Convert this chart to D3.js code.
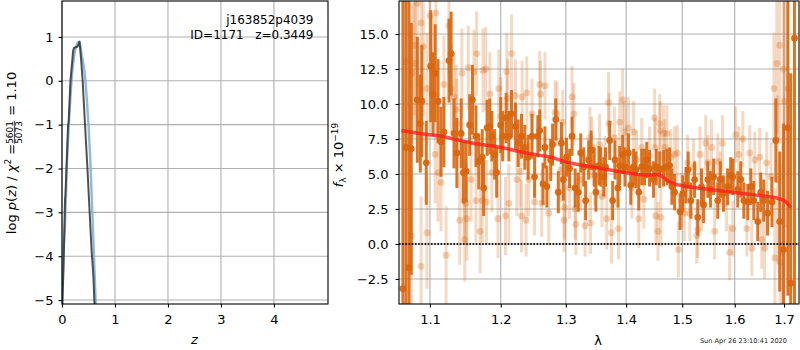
<!DOCTYPE html>
<html>
<meta charset="utf-8" />
<head>
<script src="https://cdnjs.cloudflare.com/ajax/libs/d3/7.8.5/d3.min.js"></script>
<style>
  body { margin: 0; background: #fff; }
  text { font-family: "DejaVu Sans", sans-serif; }
</style>
</head>
<body>
<script>
// ---- left panel: log p(z)
const pzBlueZ   = [0.0, 0.025, 0.06, 0.09, 0.13, 0.18, 0.245, 0.29, 0.33, 0.37, 0.43, 0.47, 0.50, 0.53, 0.56, 0.60, 0.635, 0.66];
const pzBlueLog = [-5.4, -4.0, -3.2, -2.0, -1.0, 0.0, 0.68, 0.85, 0.9, 0.6, 0.15, -0.45, -1.0, -1.7, -2.6, -3.9, -5.0, -5.8];
const pzDarkZ   = [0.0, 0.03, 0.057, 0.065, 0.09, 0.115, 0.125, 0.16, 0.21, 0.225, 0.245, 0.29, 0.31, 0.33, 0.36, 0.39, 0.43, 0.48, 0.53, 0.56, 0.59, 0.61, 0.63];
const pzDarkLog = [-5.3, -4.2, -2.7, -2.6, -1.8, -1.0, -0.95, 0.0, 0.68, 0.75, 0.76, 0.78, 0.82, 0.9, 0.5, 0.0, -0.9, -2.0, -3.2, -3.9, -4.4, -5.0, -5.5];
const zTicks = [0, 1, 2, 3, 4];
const logpTicks = [-5, -4, -3, -2, -1, 0, 1];

// ---- right panel: spectrum
const darkWave = [1.064, 1.068, 1.072, 1.075, 1.083, 1.087, 1.089, 1.095, 1.101, 1.104, 1.107, 1.111, 1.115, 1.119, 1.126, 1.129, 1.133, 1.137, 1.143, 1.146,
  1.150, 1.155, 1.159, 1.164, 1.168, 1.173, 1.175, 1.180, 1.184, 1.187, 1.191, 1.194, 1.200, 1.203, 1.208, 1.212, 1.216, 1.222, 1.226, 1.231,
  1.236, 1.241, 1.247, 1.251, 1.256, 1.259, 1.264, 1.267, 1.270, 1.276, 1.279, 1.284, 1.288, 1.293, 1.296, 1.301, 1.306, 1.310, 1.315, 1.320,
  1.324, 1.329, 1.332, 1.337, 1.341, 1.346, 1.349, 1.354, 1.357, 1.362, 1.365, 1.372, 1.377, 1.381, 1.386, 1.389, 1.394, 1.398, 1.404, 1.408,
  1.413, 1.417, 1.422, 1.427, 1.432, 1.436, 1.441, 1.448, 1.453, 1.459, 1.466, 1.472, 1.477, 1.481, 1.486, 1.496, 1.501, 1.507, 1.511, 1.516,
  1.523, 1.529, 1.536, 1.540, 1.548, 1.553, 1.559, 1.567, 1.572, 1.578, 1.586, 1.592, 1.596, 1.606, 1.612, 1.618, 1.626, 1.632, 1.638, 1.646,
  1.652, 1.658, 1.666, 1.675, 1.683, 1.691, 1.699, 1.708, 1.714, 1.722];
const darkFlux = [-3.2, 6.9, -1.7, 6.8, 10.3, 8.6, 10.2, 5.8, 12.7, 10.7, 12.2, 10.2, 7.3, 8.0, 13.1, 13.6, 7.9, 6.5, 7.9, 5.1,
  5.2, 8.5, 10.3, 7.7, 5.9, 6.2, 4.0, 8.3, 8.4, 7.7, 6.4, 5.1, 8.5, 7.7, 9.0, 7.7, 9.3, 8.4, 7.2, 7.7,
  6.9, 6.2, 7.7, 4.8, 7.7, 8.1, 4.3, 6.9, 4.1, 6.0, 7.1, 8.9, 3.7, 7.2, 4.6, 6.2, 5.4, 7.7, 4.0, 3.7,
  6.5, 5.5, 3.1, 6.0, 6.7, 5.5, 3.7, 5.6, 5.5, 4.8, 5.5, 7.4, 3.1, 6.0, 4.0, 5.6, 6.4, 5.5, 6.5, 4.2,
  5.5, 5.3, 3.7, 5.5, 5.5, 6.0, 5.4, 4.6, 5.5, 5.3, 5.4, 5.5, 5.6, 4.1, 3.7, 2.3, 3.6, 4.2, 5.3, 3.1,
  4.6, 1.9, 4.1, 2.8, 4.6, 3.9, 4.8, 3.1, 4.6, 3.6, 4.1, 4.9, 4.8, 3.9, 4.6, 3.1, 3.0, 4.1, 3.1, 1.6,
  3.7, 3.1, 2.2, 3.0, 7.4, 1.6, -0.4, 8.3, -2.8, 14.7];
const darkErr = [25, 12, 20, 9, 4.5, 3.5, 4, 3, 4, 3, 3.5, 3, 2.5, 2.5, 3, 3, 2.5, 2.5, 2.5, 2.2,
  2.2, 2.2, 2.5, 2.2, 2, 2, 2, 2, 2, 1.8, 1.8, 1.8, 2, 1.8, 1.8, 1.8, 1.7, 1.7, 1.7, 1.6,
  1.6, 1.6, 1.6, 1.5, 1.5, 1.5, 1.5, 1.5, 1.5, 1.5, 1.5, 1.5, 1.5, 1.5, 1.5, 1.4, 1.4, 1.4, 1.4, 1.4,
  1.4, 1.4, 1.4, 1.4, 1.4, 1.4, 1.4, 1.4, 1.4, 1.4, 1.4, 1.4, 1.4, 1.4, 1.4, 1.4, 1.4, 1.4, 1.4, 1.4,
  1.3, 1.3, 1.3, 1.3, 1.3, 1.3, 1.3, 1.3, 1.3, 1.3, 1.3, 1.3, 1.3, 1.3, 1.3, 1.3, 1.3, 1.3, 1.3, 1.3,
  1.3, 1.3, 1.3, 1.3, 1.3, 1.3, 1.3, 1.3, 1.3, 1.3, 1.3, 1.3, 1.3, 1.3, 1.3, 1.3, 1.3, 1.3, 1.4, 1.4,
  1.4, 1.5, 1.6, 1.8, 3, 5, 9, 12, 15, 20];

const lightWave = [1.068, 1.075, 1.076, 1.079, 1.080, 1.083, 1.088, 1.088, 1.091, 1.096, 1.096, 1.100, 1.103, 1.107, 1.108, 1.111, 1.115, 1.119, 1.122, 1.126,
  1.129, 1.133, 1.136, 1.137, 1.141, 1.144, 1.147, 1.148, 1.150, 1.151, 1.153, 1.157, 1.161, 1.164, 1.165, 1.170, 1.173, 1.174, 1.178, 1.179,
  1.184, 1.187, 1.196, 1.197, 1.200, 1.207, 1.209, 1.210, 1.212, 1.216, 1.222, 1.224, 1.229, 1.231, 1.232, 1.238, 1.239, 1.242, 1.247, 1.251,
  1.259, 1.260, 1.262, 1.267, 1.273, 1.283, 1.286, 1.292, 1.295, 1.297, 1.298, 1.306, 1.310, 1.313, 1.315, 1.316, 1.324, 1.331, 1.339, 1.340,
  1.342, 1.347, 1.355, 1.359, 1.364, 1.367, 1.370, 1.371, 1.375, 1.380, 1.387, 1.389, 1.394, 1.397, 1.404, 1.410, 1.413, 1.418, 1.422, 1.427,
  1.431, 1.441, 1.450, 1.451, 1.452, 1.456, 1.459, 1.460, 1.461, 1.466, 1.468, 1.472, 1.479, 1.486, 1.491, 1.493, 1.499, 1.504, 1.510, 1.514,
  1.521, 1.527, 1.529, 1.533, 1.536, 1.544, 1.548, 1.555, 1.561, 1.567, 1.572, 1.576, 1.584, 1.590, 1.596, 1.602, 1.608, 1.616, 1.624, 1.630,
  1.634, 1.640, 1.650, 1.654, 1.660, 1.664, 1.673, 1.679, 1.681, 1.685, 1.687, 1.691, 1.692, 1.697, 1.699, 1.701, 1.708];
const lightFlux = [13.0, 0.6, 12.2, 14.2, 12.9, 17.2, 15.8, -1.6, 14.1, 11.1, 0.8, 16.3, 12.8, 6.4, 16.5, 5.1, 4.4, 11.4, -0.8, 15.6,
  11.1, 10.5, 9.6, 8.6, 1.7, 12.2, 3.1, 0.3, 2.9, 1.8, 12.6, 4.6, 12.3, 3.1, 13.6, 0.9, 3.1, 12.4, 12.5, 3.0,
  10.7, 5.1, 1.8, 11.1, 9.1, 2.0, 12.3, 10.4, 2.9, 13.6, 10.6, 4.6, 5.2, 2.0, 10.5, 1.7, 10.8, 4.6, 9.3, 3.0,
  11.4, 10.7, 2.9, 11.3, 2.2, 9.4, 9.3, 5.3, 8.7, 1.7, 2.6, 4.0, 10.5, 9.3, 2.5, 1.4, 4.6, 1.3, 7.6, 1.5,
  6.9, 4.9, 7.1, 3.4, 5.5, 1.8, 10.1, 8.6, 0.8, 7.6, 1.1, 8.7, 10.3, 8.0, 8.3, 4.0, 8.0, 6.0, 1.8, 6.9,
  3.2, 6.3, 9.0, 6.9, 2.0, 0.9, 8.6, 8.1, 1.9, 7.9, 6.9, 7.9, 6.2, 6.4, 6.5, -0.4, 3.1, 2.2, 5.8, 2.2,
  5.5, 0.6, 1.0, 6.4, 2.9, 7.2, 5.8, 6.9, 0.9, 5.9, 4.6, 7.2, 2.9, -0.6, 1.1, 7.8, 6.4, 7.5, 1.1, 6.5,
  -0.3, 6.0, 6.2, 0.3, -0.3, 5.8, 4.8, 11.1, -1.0, 12.9, 4.6, 14.2, -1.3, -0.6, 12.5, 10.2, 11.1];
const lightErr = [6, 5, 5, 5, 5, 6, 5, 5, 5, 4, 4, 4, 3.5, 3.5, 4, 3.5, 3.5, 3.5, 3.5, 3.5,
  3.2, 3.2, 3.2, 3.2, 3.2, 3.2, 3, 3, 3, 3, 3, 3, 3, 3, 3, 3, 3, 3, 3, 3,
  3, 2.8, 2.8, 2.8, 2.8, 2.8, 2.8, 2.8, 2.8, 2.8, 2.6, 2.6, 2.6, 2.6, 2.6, 2.6, 2.6, 2.6, 2.5, 2.4,
  2.4, 2.4, 2.4, 2.4, 2.3, 2.3, 2.3, 2.3, 2.3, 2.3, 2.3, 2.2, 2.2, 2.2, 2.2, 2.2, 2.2, 2.2, 2.2, 2.2,
  2.2, 2.2, 2.2, 2.2, 2.2, 2.2, 2.2, 2.2, 2.2, 2.2, 2.2, 2.2, 2.2, 2.2, 2.2, 2.2, 2.2, 2.1, 2.1, 2.1,
  2.1, 2.1, 2.1, 2.1, 2.1, 2.1, 2.1, 2.1, 2.1, 2.0, 2.0, 2.0, 2.0, 2.0, 2.0, 2.0, 2.0, 2.0, 2.0, 2.0,
  2.0, 2.0, 2.0, 2.0, 2.0, 2.0, 2.0, 2.0, 2.0, 2.0, 2.0, 2.0, 2.0, 2.0, 2.0, 2.0, 2.0, 2.0, 2.0, 2.0,
  2.0, 2.0, 2.1, 2.1, 2.2, 2.2, 2.5, 4, 5, 5, 6, 7, 7, 8, 9, 9, 10];

const modelWave = [1.062, 1.080, 1.100, 1.116, 1.140, 1.160, 1.180, 1.195, 1.210, 1.226, 1.243, 1.260, 1.277, 1.287, 1.298, 1.320, 1.354, 1.375, 1.398, 1.415,
  1.432, 1.445, 1.457, 1.466, 1.474, 1.486, 1.500, 1.529, 1.560, 1.594, 1.630, 1.660, 1.680, 1.691, 1.700, 1.707, 1.714];
const modelFlux = [8.1, 7.95, 7.8, 7.7, 7.4, 7.2, 7.05, 6.95, 6.8, 6.62, 6.47, 6.33, 6.2, 6.05, 5.88, 5.68, 5.42, 5.26, 5.1, 5.0,
  4.92, 4.93, 4.95, 4.75, 4.5, 4.3, 4.16, 4.0, 3.85, 3.7, 3.55, 3.42, 3.32, 3.22, 3.1, 2.92, 2.6];

const waveTicks = [1.1, 1.2, 1.3, 1.4, 1.5, 1.6, 1.7];
const fluxTicks = [-2.5, 0, 2.5, 5, 7.5, 10, 12.5, 15];

const objName = "j163852p4039";
const objInfo = "ID=1171   z=0.3449";
const stamp = "Sun Apr 26 23:10:41 2020";

// ---- layout
const width = 800, height = 350;
const L = { x0: 62, x1: 328, y0: 1, y1: 304 };
const R = { x0: 399, x1: 799, y0: 1, y1: 304 };
const gridColor = "#b0b0b0";
const orange = "#d9660f";

const svg = d3.select("body").append("svg")
  .attr("width", width).attr("height", height)
  .style("background", "#fff");

const defs = svg.append("defs");
defs.append("clipPath").attr("id", "clipL").append("rect")
  .attr("x", L.x0).attr("y", L.y0).attr("width", L.x1 - L.x0).attr("height", L.y1 - L.y0);
defs.append("clipPath").attr("id", "clipR").append("rect")
  .attr("x", R.x0).attr("y", R.y0).attr("width", R.x1 - R.x0).attr("height", R.y1 - R.y0);

const xz = d3.scaleLinear().domain([0, 5.02]).range([L.x0, L.x1]);
const ylp = d3.scaleLinear().domain([-5.09, 1.82]).range([L.y1, L.y0]);
const xw = d3.scaleLog().domain([1.0589, 1.7316]).range([R.x0, R.x1]);
const yf = d3.scaleLinear().domain([-4.29, 17.36]).range([R.y1, R.y0]);

function grid(box, xs, xt, ys, yt) {
  const g = svg.append("g").attr("stroke", gridColor).attr("stroke-width", 1.1);
  g.selectAll(".gx").data(xt).join("line")
    .attr("x1", d => xs(d)).attr("x2", d => xs(d)).attr("y1", box.y0).attr("y2", box.y1);
  g.selectAll(".gy").data(yt).join("line")
    .attr("y1", d => ys(d)).attr("y2", d => ys(d)).attr("x1", box.x0).attr("x2", box.x1);
}
grid(L, xz, zTicks, ylp, logpTicks);
grid(R, xw, waveTicks, yf, fluxTicks);

// ---- left curves
const pl = svg.append("g").attr("clip-path", "url(#clipL)");
const lineZ = d3.line().curve(d3.curveMonotoneX).x(d => xz(d[0])).y(d => ylp(d[1]));
pl.append("path").datum(d3.zip(pzBlueZ, pzBlueLog)).attr("d", lineZ)
  .attr("fill", "none").attr("stroke", "#7fb3dc").attr("stroke-opacity", 0.9).attr("stroke-width", 2.4);
pl.append("path").datum(d3.zip(pzDarkZ, pzDarkLog)).attr("d", d3.line().x(d => xz(d[0])).y(d => ylp(d[1])))
  .attr("fill", "none").attr("stroke", "#333").attr("stroke-opacity", 0.85).attr("stroke-width", 2);

// ---- right spectrum
const pr = svg.append("g").attr("clip-path", "url(#clipR)");
const light = d3.zip(lightWave, lightFlux, lightErr);
const dark = d3.zip(darkWave, darkFlux, darkErr);

pr.append("g").selectAll("line").data(light).join("line")
  .attr("x1", d => xw(d[0])).attr("x2", d => xw(d[0]))
  .attr("y1", d => yf(d[1] - d[2])).attr("y2", d => yf(d[1] + d[2]))
  .attr("stroke", orange).attr("stroke-opacity", 0.25).attr("stroke-width", 3);
pr.append("g").selectAll("circle").data(light).join("circle")
  .attr("cx", d => xw(d[0])).attr("cy", d => yf(d[1])).attr("r", 3.4)
  .attr("fill", orange).attr("fill-opacity", 0.3);

pr.append("g").selectAll("line").data(dark).join("line")
  .attr("x1", d => xw(d[0])).attr("x2", d => xw(d[0]))
  .attr("y1", d => yf(d[1] - d[2])).attr("y2", d => yf(d[1] + d[2]))
  .attr("stroke", orange).attr("stroke-opacity", 0.9).attr("stroke-width", 3);
pr.append("g").selectAll("circle").data(dark).join("circle")
  .attr("cx", d => xw(d[0])).attr("cy", d => yf(d[1])).attr("r", 3.4)
  .attr("fill", orange).attr("fill-opacity", 0.95);

pr.append("line")
  .attr("x1", R.x0).attr("x2", R.x1).attr("y1", yf(0)).attr("y2", yf(0))
  .attr("stroke", "#000").attr("stroke-width", 2).attr("stroke-dasharray", "1.6,1.6").attr("opacity", 0.85);

pr.append("path").datum(d3.zip(modelWave, modelFlux))
  .attr("d", d3.line().curve(d3.curveMonotoneX).x(d => xw(d[0])).y(d => yf(d[1])))
  .attr("fill", "none").attr("stroke", "#ff1a1a").attr("stroke-opacity", 0.75).attr("stroke-width", 3.5);

// ---- axes
function axes(box, xs, xt, xfmt, ys, yt, yfmt, ygap) {
  const ax = svg.append("g").attr("transform", `translate(0,${box.y1})`)
    .call(d3.axisBottom(xs).tickValues(xt).tickFormat(xfmt).tickSize(3.5).tickPadding(7.5).tickSizeOuter(0));
  ax.select(".domain").remove();
  const ay = svg.append("g").attr("transform", `translate(${box.x0},0)`)
    .call(d3.axisLeft(ys).tickValues(yt).tickFormat(yfmt).tickSize(3.5).tickPadding(ygap).tickSizeOuter(0));
  ay.select(".domain").remove();
  [ax, ay].forEach(a => {
    a.selectAll("text").attr("font-size", 13).attr("font-family", "DejaVu Sans").attr("fill", "#000");
    a.selectAll("line").attr("stroke", "#000").attr("stroke-width", 1.1);
  });
  svg.append("rect").attr("x", box.x0).attr("y", box.y0)
    .attr("width", box.x1 - box.x0).attr("height", box.y1 - box.y0)
    .attr("fill", "none").attr("stroke", "#000").attr("stroke-width", 1.1);
}
axes(L, xz, zTicks, d3.format("d"), ylp, logpTicks, d3.format("d"), 5);
axes(R, xw, waveTicks, d3.format(".1f"), yf, fluxTicks, d3.format(".1f"), 7);

// ---- annotations
svg.append("text").attr("x", 313.5).attr("y", 24).attr("text-anchor", "end")
  .attr("font-size", 12).text(objName);
svg.append("text").attr("x", 313.5).attr("y", 38.5).attr("text-anchor", "end")
  .attr("font-size", 12).style("white-space", "pre").text(objInfo);

svg.append("text").attr("x", xz(2.5)).attr("y", 344).attr("text-anchor", "middle")
  .attr("font-size", 13).attr("font-style", "italic").text("z");
svg.append("text").attr("x", 598).attr("y", 345).attr("text-anchor", "middle")
  .attr("font-size", 13).text("\u03bb");

svg.append("text").attr("x", 787).attr("y", 342.5).attr("text-anchor", "end")
  .attr("font-size", 6.6).attr("fill", "#222").text(stamp);

// left y label with stacked fraction
const yl = svg.append("g");
const t1 = yl.append("text").attr("font-size", 13);
t1.append("tspan").text("log ");
t1.append("tspan").attr("font-style", "italic").text("p");
t1.append("tspan").text("(");
t1.append("tspan").attr("font-style", "italic").text("z");
t1.append("tspan").text(") / ");
t1.append("tspan").attr("font-style", "italic").text("\u03c7");
t1.append("tspan").attr("font-size", 9).attr("dy", -5.5).text("2");
t1.append("tspan").attr("dy", 5.5).text(" = ");
const w1 = t1.node().getComputedTextLength();
const num = yl.append("text").attr("font-size", 9).attr("x", w1).attr("y", -2.8).text("5601");
const fw = num.node().getComputedTextLength();
yl.append("text").attr("font-size", 9).attr("x", w1).attr("y", 5.6).text("5073");
yl.append("line").attr("x1", w1).attr("x2", w1 + fw).attr("y1", -1.6).attr("y2", -1.6)
  .attr("stroke", "#000").attr("stroke-width", 0.7);
const t2 = yl.append("text").attr("font-size", 13).attr("x", w1 + fw + 1)
  .style("white-space", "pre").text(" = 1.10");
const wy = w1 + fw + 1 + t2.node().getComputedTextLength();
yl.attr("transform", `translate(16,${153 + wy / 2}) rotate(-90)`);

// right y label
const yr = svg.append("g");
const t3 = yr.append("text").attr("font-size", 13);
t3.append("tspan").attr("font-style", "italic").text("f");
t3.append("tspan").attr("font-size", 9).attr("dy", 3).text("\u03bb");
t3.append("tspan").attr("dy", -3).text(" \u00d7 10");
t3.append("tspan").attr("font-size", 9).attr("dy", -5.5).text("\u221219");
const wr = t3.node().getComputedTextLength();
yr.attr("transform", `translate(343,${155 + wr / 2}) rotate(-90)`);
</script>
</body>
</html>
